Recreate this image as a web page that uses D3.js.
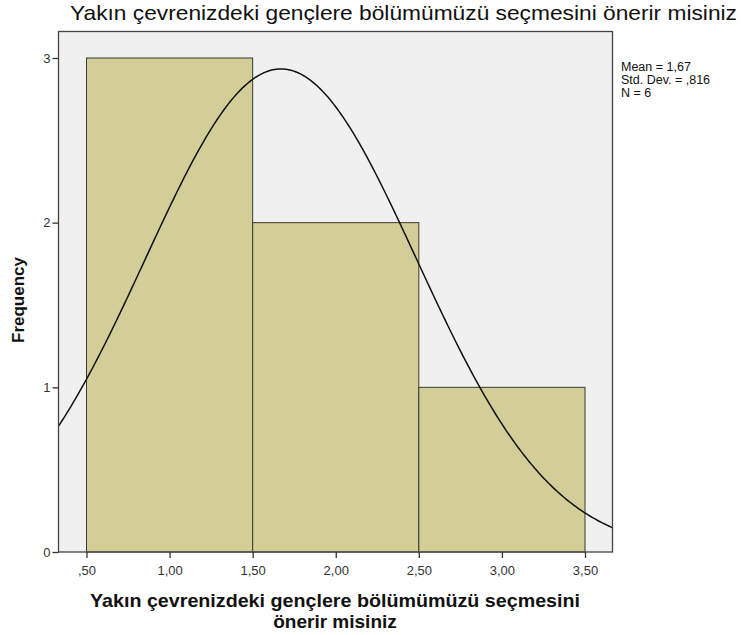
<!DOCTYPE html>
<html><head><meta charset="utf-8">
<script src="https://cdn.jsdelivr.net/npm/d3@7"></script>
<style>body{margin:0;background:#fff}svg{display:block}</style>
</head><body>
<script>
const binStarts = [0.5, 1.5, 2.5];
const binEnds = [1.5, 2.5, 3.5];
const frequencies = [3, 2, 1];
const xTicks = [0.5, 1.0, 1.5, 2.0, 2.5, 3.0, 3.5];
const xTickLabels = [",50", "1,00", "1,50", "2,00", "2,50", "3,00", "3,50"];
const yTicks = [0, 1, 2, 3];
const statLabels = ["Mean = 1,67", "Std. Dev. = ,816", "N = 6"];
const stats = {mean: [1.67], sd: [0.816], n: [6]};

const W = 744, H = 635;
const svg = d3.select("body").append("svg").attr("width", W).attr("height", H);
const L = 58.5, R = 612.5, T = 31.5, B = 552;
const x = d3.scaleLinear().domain([0.5, 3.5]).range([86.5, 585]);
const y = d3.scaleLinear().domain([0, 3]).range([B, 58]);
const font = "'Liberation Sans', Arial, sans-serif";

svg.append("rect").attr("x", L).attr("y", T).attr("width", R - L).attr("height", B - T)
  .attr("fill", "#f0f0f0");

svg.append("clipPath").attr("id", "c").append("rect")
  .attr("x", L).attr("y", T).attr("width", R - L).attr("height", B - T);

svg.selectAll("rect.bar").data(frequencies).enter().append("rect").attr("class", "bar")
  .attr("x", (d, i) => x(binStarts[i]))
  .attr("width", (d, i) => x(binEnds[i]) - x(binStarts[i]))
  .attr("y", d => y(d)).attr("height", d => B - y(d))
  .attr("fill", "#d3ce98").attr("stroke", "#3a3a30").attr("stroke-width", 1);

// normal curve from stated mean, sd, N (bin width 1)
const m = stats.mean[0], s = stats.sd[0], n = stats.n[0], bw = 1;
const x0 = x.invert(L), x1 = x.invert(R);
const pts = d3.range(0, 301).map(i => {
  const v = x0 + (x1 - x0) * i / 300;
  return [v, n * bw / (s * Math.sqrt(2 * Math.PI)) * Math.exp(-0.5 * ((v - m) / s) ** 2)];
});
svg.append("path").datum(pts)
  .attr("d", d3.line().x(d => x(d[0])).y(d => y(d[1])))
  .attr("fill", "none").attr("stroke", "#111").attr("stroke-width", 1.5)
  .attr("clip-path", "url(#c)");

svg.append("rect").attr("x", L).attr("y", T).attr("width", R - L).attr("height", B - T)
  .attr("fill", "none").attr("stroke", "#444").attr("stroke-width", 1.3);

const xAxis = svg.append("g").attr("transform", `translate(0,${B})`)
  .call(d3.axisBottom(x).tickValues(xTicks).tickFormat((d, i) => xTickLabels[i]).tickSize(6).tickSizeOuter(0));
xAxis.select(".domain").remove();
const yAxis = svg.append("g").attr("transform", `translate(${L},0)`)
  .call(d3.axisLeft(y).tickValues(yTicks).tickFormat(d3.format("d")).tickSize(6).tickSizeOuter(0));
yAxis.select(".domain").remove();
svg.selectAll(".tick line").attr("stroke", "#333").attr("stroke-width", 1.3);
svg.selectAll(".tick text").attr("font-family", font).attr("font-size", 13).attr("fill", "#333");
xAxis.selectAll(".tick text").attr("dy", "0.71em").attr("y", 14);
yAxis.selectAll(".tick text").attr("x", -8);

svg.append("text").attr("x", 70).attr("y", 20).attr("text-anchor", "start")
  .attr("font-family", font).attr("font-size", 21).attr("fill", "#111")
  .attr("textLength", 667).attr("lengthAdjust", "spacingAndGlyphs")
  .text("Yakın çevrenizdeki gençlere bölümümüzü seçmesini önerir misiniz");

const xt = svg.append("text").attr("text-anchor", "middle").attr("font-family", font)
  .attr("font-size", 19).attr("font-weight", "bold").attr("fill", "#111");
xt.append("tspan").attr("x", 335).attr("y", 607).attr("textLength", 490).attr("lengthAdjust", "spacingAndGlyphs")
  .text("Yakın çevrenizdeki gençlere bölümümüzü seçmesini");
xt.append("tspan").attr("x", 335).attr("y", 628).text("önerir misiniz");

svg.append("text").attr("transform", "translate(24,300) rotate(-90)").attr("text-anchor", "middle")
  .attr("font-family", font).attr("font-size", 17).attr("font-weight", "bold").attr("fill", "#111")
  .text("Frequency");

svg.selectAll("text.stat").data(statLabels).enter().append("text").attr("class", "stat")
  .attr("x", 621).attr("y", (d, i) => 71 + i * 13)
  .attr("font-family", font).attr("font-size", 12.5).attr("fill", "#111").text(d => d);
</script>
</body></html>
